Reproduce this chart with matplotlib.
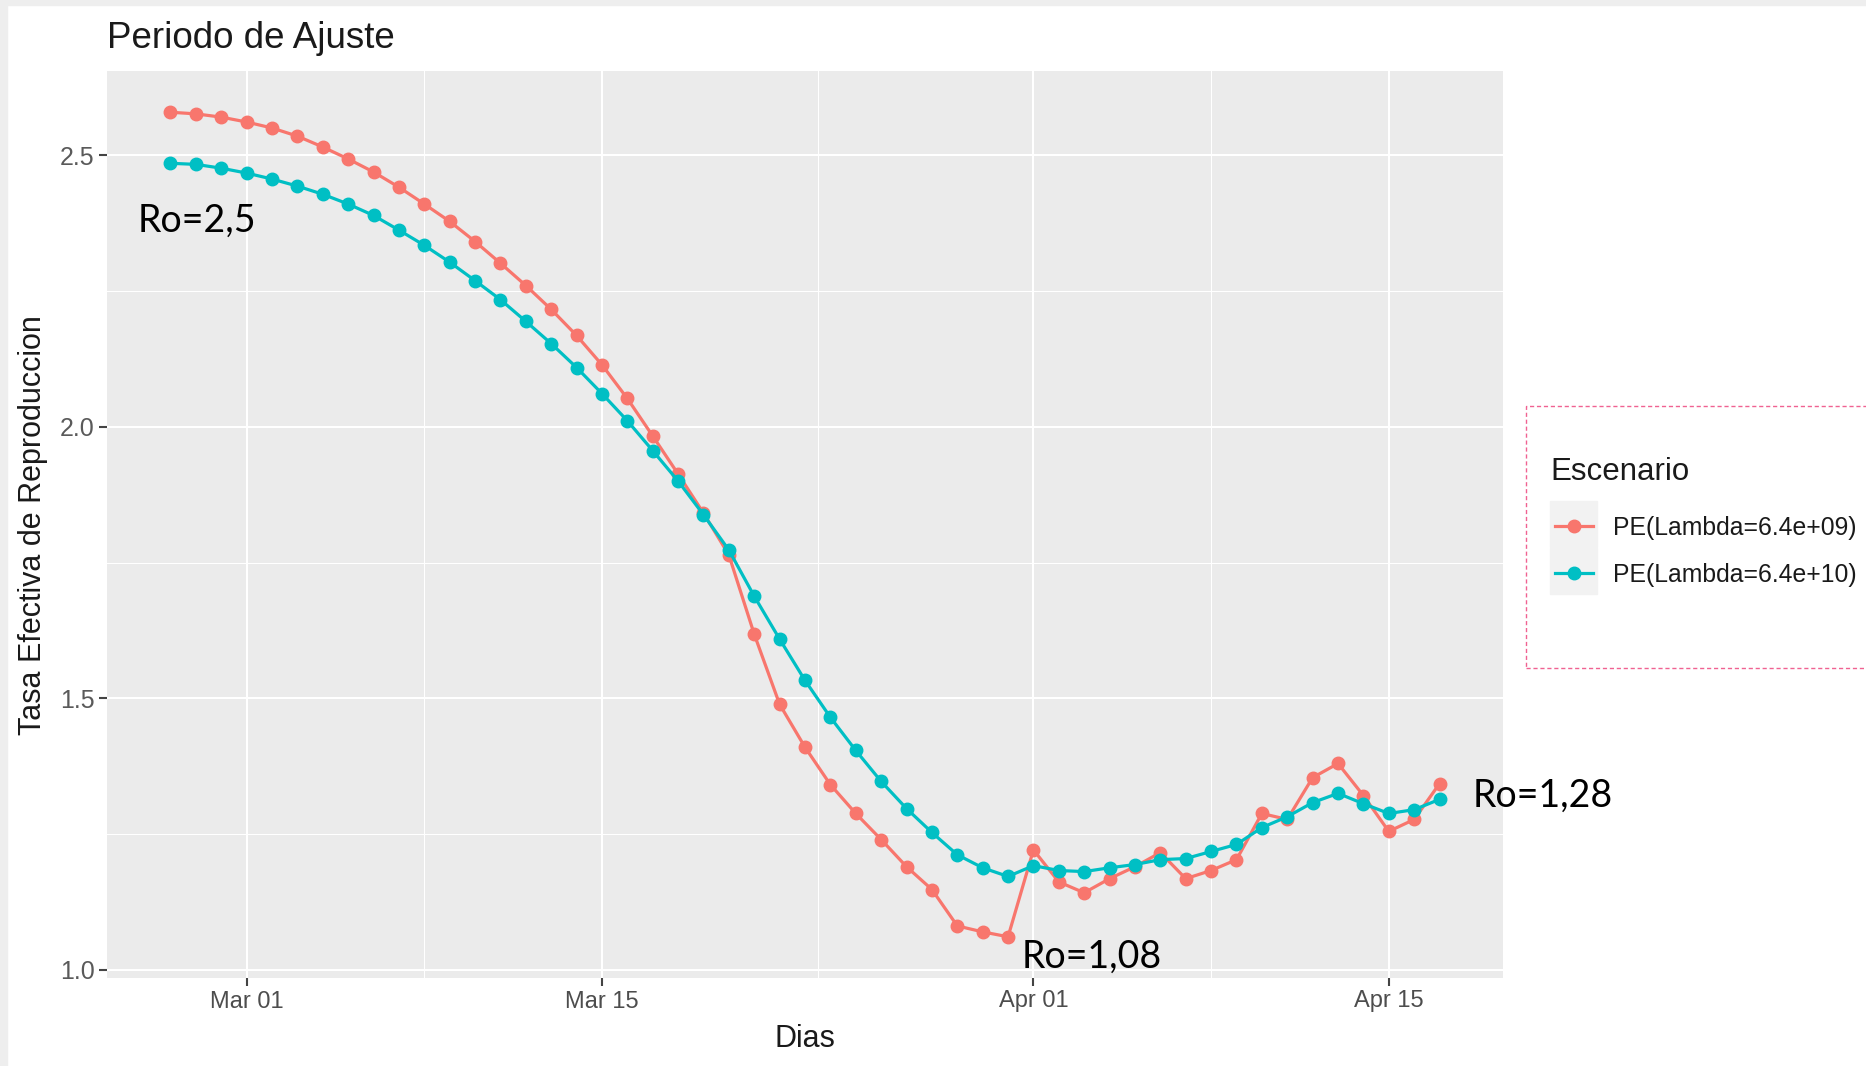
import matplotlib
matplotlib.use("Agg")
import matplotlib.pyplot as plt
import matplotlib.dates as mdates
from matplotlib.patches import Rectangle
import numpy as np
import pandas as pd

# data (one value per day)
start_day = "2020-02-27"
end_day = "2020-04-17"
pe_09 = [2.579, 2.576, 2.570, 2.561, 2.550, 2.535, 2.515, 2.493, 2.469, 2.441,
         2.410, 2.378, 2.341, 2.301, 2.260, 2.216, 2.168, 2.114, 2.052, 1.983,
         1.913, 1.841, 1.764, 1.618, 1.489, 1.410, 1.341, 1.288, 1.240, 1.190,
         1.148, 1.081, 1.070, 1.061, 1.221, 1.162, 1.142, 1.168, 1.190, 1.216,
         1.168, 1.183, 1.203, 1.288, 1.277, 1.354, 1.380, 1.321, 1.255, 1.277,
         1.343]
pe_10 = [2.485, 2.483, 2.476, 2.467, 2.456, 2.443, 2.428, 2.410, 2.389, 2.362,
         2.334, 2.303, 2.269, 2.234, 2.194, 2.153, 2.109, 2.061, 2.011, 1.956,
         1.900, 1.838, 1.773, 1.688, 1.609, 1.533, 1.465, 1.404, 1.347, 1.297,
         1.253, 1.212, 1.188, 1.172, 1.192, 1.183, 1.181, 1.188, 1.194, 1.203,
         1.205, 1.218, 1.231, 1.262, 1.282, 1.308, 1.325, 1.306, 1.288, 1.295,
         1.314]
series_labels = ["PE(Lambda=6.4e+09)", "PE(Lambda=6.4e+10)"]
series_colors = ["#F8766D", "#00BFC4"]
major_days = ["2020-03-01", "2020-03-15", "2020-04-01", "2020-04-15"]
minor_days = ["2020-03-08", "2020-03-23 12:00", "2020-04-08"]
y_major = [1.0, 1.5, 2.0, 2.5]
y_minor = [1.25, 1.75, 2.25]
notes = ["Ro=2,5", "Ro=1,08", "Ro=1,28"]

dias = pd.date_range(start_day, end_day, freq="D")

W, H = 1866, 1066
fig = plt.figure(figsize=(W / 100, H / 100), dpi=100, facecolor="white")

# slide edge strips
fig.patches.append(Rectangle((0, 0), 7 / W, 1, transform=fig.transFigure,
                             color="#EEEEEE", zorder=0))
fig.patches.append(Rectangle((0, 1 - 5 / H), 1, 5 / H, transform=fig.transFigure,
                             color="#EEEEEE", zorder=0))

ax = fig.add_axes([107 / W, 1 - 978 / H, (1503 - 107) / W, (978 - 71) / H])
ax.set_facecolor("#EBEBEB")
for s in ax.spines.values():
    s.set_visible(False)

handles = []
for vals, lab, col in zip([pe_09, pe_10], series_labels, series_colors):
    h, = ax.plot(dias, vals, color=col, lw=2.3, marker="o", ms=9,
                 label=lab, zorder=3)
    handles.append(h)

# ggplot-style 5% expansion
x0 = mdates.date2num(dias[0])
x1 = mdates.date2num(dias[-1])
dx = 0.05 * (x1 - x0)
ax.set_xlim(x0 - dx, x1 + dx)
allv = np.array(pe_09 + pe_10)
dy = 0.05 * (allv.max() - allv.min())
ax.set_ylim(allv.min() - dy, allv.max() + dy)

ax.set_xticks([mdates.date2num(pd.Timestamp(d)) for d in major_days])
ax.set_xticks([mdates.date2num(pd.Timestamp(d)) for d in minor_days], minor=True)
ax.xaxis.set_major_formatter(mdates.DateFormatter("%b %d"))
ax.set_yticks(y_major)
ax.set_yticks(y_minor, minor=True)
ax.set_yticklabels(["%.1f" % v for v in y_major])

ax.grid(which="major", color="white", lw=1.5, zorder=0)
ax.grid(which="minor", color="white", lw=0.75, zorder=0)
ax.set_axisbelow(True)

ax.tick_params(axis="both", which="major", length=6, width=1.5, color="#444444")
ax.tick_params(axis="both", which="minor", length=0)
ax.tick_params(axis="x", labelsize=17, labelcolor="#4D4D4D", pad=3)
ax.tick_params(axis="y", labelsize=18, labelcolor="#5A5A5A", pad=3)
for t in ax.get_xticklabels() + ax.get_yticklabels():
    t.set_family("Liberation Sans")

fig.text(107 / W, 1 - 48 / H, "Periodo de Ajuste", fontsize=26.5,
         family="Liberation Sans", color="#1A1A1A", va="baseline")
fig.text(805 / W, 1 - 1047 / H, "Dias", fontsize=22, family="Liberation Sans",
         color="#1A1A1A", ha="center", va="baseline")
fig.text(33 / W, 1 - 525 / H, "Tasa Efectiva de Reproduccion", fontsize=22,
         family="Liberation Sans", color="#1A1A1A", ha="center", va="center",
         rotation=90)

# annotations
fig.text(138 / W, 1 - 232 / H, notes[0], fontsize=27, family="Lato",
         color="black", va="baseline")
fig.text(1022 / W, 1 - 968 / H, notes[1], fontsize=27, family="Lato",
         color="black", va="baseline")
fig.text(1473 / W, 1 - 807 / H, notes[2], fontsize=27, family="Lato",
         color="black", va="baseline")

# legend box from the slide
fig.patches.append(Rectangle((1526 / W, 1 - 668 / H), 400 / W, 262 / H,
                             transform=fig.transFigure, facecolor="none",
                             edgecolor="#F06292", lw=1.0, ls=(0, (3, 2)),
                             zorder=1))
# grey key backgrounds
for top in [501, 548]:
    fig.patches.append(Rectangle((1550 / W, 1 - (top + 46) / H), 47 / W,
                                 46 / H, transform=fig.transFigure,
                                 color="#F2F2F2", zorder=1))

fig.text(1550 / W, 1 - 480 / H, "Escenario", fontsize=22.5,
         family="Liberation Sans", color="#1A1A1A", va="baseline")

leg_fs = 17.8
leg_px = leg_fs * 100 / 72
leg = fig.legend(handles=handles, labels=series_labels, loc="upper left",
                 bbox_to_anchor=(1555 / W, 1 - 516 / H), frameon=False,
                 fontsize=leg_fs, handlelength=38 / leg_px,
                 handletextpad=20 / leg_px, labelspacing=0.92,
                 borderpad=0, borderaxespad=0)
for t in leg.get_texts():
    t.set_family("Liberation Sans")
    t.set_color("#1A1A1A")

fig.savefig("out.png", dpi=100, facecolor=fig.get_facecolor())
